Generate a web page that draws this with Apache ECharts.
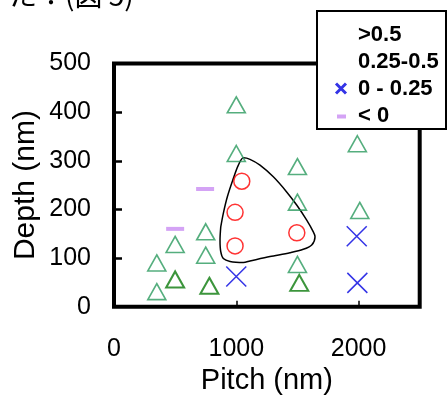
<!DOCTYPE html>
<html>
<head>
<meta charset="utf-8">
<script src="https://cdn.jsdelivr.net/npm/echarts@6.0.0/dist/echarts.min.js"></script>
<style>
html, body { margin: 0; padding: 0; background: #fff; }
#chart { width: 448px; height: 396px; }
</style>
</head>
<body>
<div id="chart"></div>
<script>
// >0.5 : red open circles
const highPitch = [1045, 990, 990, 1495];
const highDepth = [258, 194, 125, 152];
// 0.25-0.5 : open triangles (light green)
const midPitch = [1000, 1000, 1500, 1500, 1500, 1990, 2010, 350, 350, 500, 750, 750];
const midDepth = [415, 315, 288, 215, 87, 335, 198, 90, 31, 128, 154, 106];
// 0.25-0.5 : open triangles (dark green)
const midDarkPitch = [500, 780, 1515];
const midDarkDepth = [56, 43, 49];
// 0 - 0.25 : blue crosses
const lowPitch = [1000, 1985, 1990];
const lowDepth = [62, 145, 49];
// < 0 : violet dashes
const negPitch = [500, 745];
const negDepth = [160, 242];
// hand drawn boundary round the >0.5 region
const loopPitch = [873, 894, 927, 971, 1017, 1058, 1112, 1194, 1303, 1412, 1494, 1576, 1630, 1644, 1617, 1548, 1439, 1276, 1112, 1058, 949, 894, 873, 867, 873];
const loopDepth = [164, 192, 226, 260, 291, 306, 303, 291, 267, 236, 209, 178, 154, 144, 127, 118, 111, 103, 94, 91, 93, 99, 113, 137, 164];

const xLabels = [0, 1000, 2000];
const xTicks = [1000, 2000];
const yLabels = [0, 100, 200, 300, 400, 500];
const yTicks = [100, 200, 300, 400];
const legendNames = ['>0.5', '0.25-0.5', '0 - 0.25', '< 0'];

const zip = (a, b) => a.map((v, i) => [v, b[i]]);
const font = 'Liberation Sans';

const myChart = echarts.init(document.getElementById('chart'));

const option = {
    animation: false,
    grid: {
        left: 114,
        right: 28.3,
        top: 63.5,
        bottom: 89.3,
        show: true,
        borderColor: '#000',
        borderWidth: 4,
        outerBoundsMode: 'none'
    },
    graphic: [
        {
            type: 'text',
            x: 9,
            y: 9,
            style: {
                text: 'た：(図 5)',
                font: '28px "Noto Sans CJK JP"',
                fill: '#000',
                verticalAlign: 'bottom'
            }
        },
        {
            // legend frame
            type: 'rect',
            z: 3,
            shape: { x: 317, y: 11, width: 129, height: 118 },
            style: { fill: '#fff', stroke: '#000', lineWidth: 2 }
        }
    ],
    legend: {
        orient: 'vertical',
        left: 317,
        top: 11,
        z: 6,
        padding: [12.5, 2, 2, 11],
        itemWidth: 24,
        itemHeight: 12,
        itemGap: 5,
        borderWidth: 0,
        selectedMode: false,
        textStyle: {
            fontFamily: font,
            fontSize: 22,
            fontWeight: 'bold',
            color: '#000'
        },
        data: [
            { name: legendNames[0], itemStyle: { opacity: 0 } },
            { name: legendNames[1], itemStyle: { opacity: 0 } },
            { name: legendNames[2], icon: 'path://M0,0M12,12M1,1L11,11M11,1L1,11', itemStyle: { borderWidth: 3 } },
            { name: legendNames[3], icon: 'path://M0,0M12,12M2,5h9v4h-9z' }
        ]
    },
    xAxis: {
        type: 'value',
        min: 0,
        max: 2500,
        interval: 500,
        name: 'Pitch (nm)',
        nameLocation: 'middle',
        nameGap: 60,
        nameMoveOverlap: false,
        nameTextStyle: { fontFamily: font, fontSize: 29, color: '#000' },
        axisLine: { show: false },
        splitLine: { show: false },
        axisTick: {
            inside: true,
            length: 6,
            customValues: xTicks,
            lineStyle: { color: '#000', width: 1.5 }
        },
        axisLabel: {
            customValues: xLabels,
            formatter: v => String(v),
            margin: 30,
            fontFamily: font,
            fontSize: 25,
            color: '#000'
        }
    },
    yAxis: {
        type: 'value',
        min: 0,
        max: 500,
        interval: 100,
        name: 'Depth (nm)',
        nameLocation: 'middle',
        nameGap: 73,
        nameMoveOverlap: false,
        nameTextStyle: { fontFamily: font, fontSize: 30, color: '#000' },
        axisLine: { show: false },
        splitLine: { show: false },
        axisTick: {
            inside: true,
            length: 8,
            customValues: yTicks,
            lineStyle: { color: '#000', width: 2.5 }
        },
        axisLabel: {
            customValues: yLabels,
            formatter: v => String(v),
            margin: 23,
            padding: [5, 0, 0, 0],
            fontFamily: font,
            fontSize: 25,
            color: '#000'
        }
    },
    series: [
        {
            name: 'boundary',
            type: 'line',
            data: zip(loopPitch, loopDepth),
            smooth: 0.3,
            showSymbol: false,
            silent: true,
            lineStyle: { color: '#000', width: 1.5 },
            z: 1
        },
        {
            name: legendNames[0],
            type: 'scatter',
            symbol: 'circle',
            symbolSize: 16,
            itemStyle: { color: 'transparent', borderColor: '#ff0000', borderWidth: 1.5 },
            data: zip(highPitch, highDepth)
        },
        {
            name: legendNames[1],
            type: 'scatter',
            symbol: 'triangle',
            symbolSize: [18, 16],
            itemStyle: { color: 'transparent', borderColor: '#2a9a5e', borderWidth: 1.6 },
            data: zip(midPitch, midDepth)
        },
        {
            name: legendNames[1],
            type: 'scatter',
            symbol: 'triangle',
            symbolSize: [18, 16],
            itemStyle: { color: 'transparent', borderColor: '#0b7a0b', borderWidth: 2 },
            data: zip(midDarkPitch, midDarkDepth)
        },
        {
            name: legendNames[2],
            type: 'scatter',
            symbol: 'path://M0,0L10,10M10,0L0,10',
            symbolSize: 20,
            itemStyle: { color: 'transparent', borderColor: '#0000e0', borderWidth: 1.5 },
            data: zip(lowPitch, lowDepth)
        },
        {
            name: legendNames[3],
            type: 'scatter',
            symbol: 'rect',
            symbolSize: [18, 4],
            itemStyle: { color: '#c98cf2' },
            data: zip(negPitch, negDepth)
        }
    ]
};

myChart.setOption(option);
</script>
</body>
</html>
